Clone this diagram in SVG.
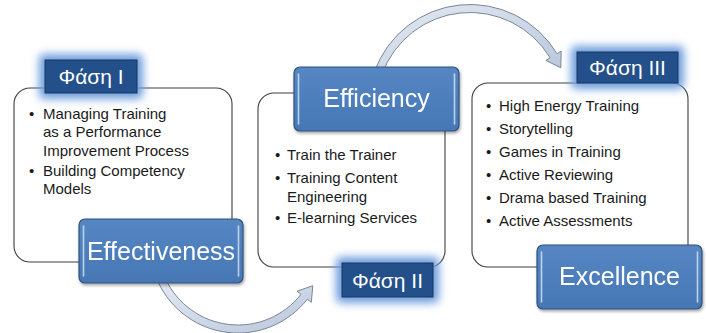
<svg xmlns="http://www.w3.org/2000/svg" width="706" height="333" viewBox="0 0 706 333">
<defs>
<linearGradient id="bluegrad" x1="0" y1="0" x2="0" y2="1">
<stop offset="0" stop-color="#5687c3"/>
<stop offset="1" stop-color="#4677b5"/>
</linearGradient>
<linearGradient id="arrowgrad" x1="0" y1="0" x2="1" y2="1">
<stop offset="0" stop-color="#e4eaf3"/>
<stop offset="1" stop-color="#b9c7dc"/>
</linearGradient>
<filter id="shadow" x="-10%" y="-10%" width="125%" height="135%">
<feGaussianBlur in="SourceAlpha" stdDeviation="1.5"/>
<feOffset dx="1" dy="2" result="b"/>
<feComponentTransfer><feFuncA type="linear" slope="0.35"/></feComponentTransfer>
<feMerge><feMergeNode/><feMergeNode in="SourceGraphic"/></feMerge>
</filter>
<filter id="glow" x="-40%" y="-80%" width="180%" height="260%">
<feGaussianBlur stdDeviation="4.5"/>
</filter>
<style>
.panel{fill:#ffffff;stroke:#3f3f3f;stroke-width:1.1}
.box{fill:url(#bluegrad);stroke:#2f527c;stroke-width:1.2}
.hl{stroke:#cfe0f5;stroke-width:1.6;stroke-linecap:round;opacity:0.85}
.phase{fill:#23508a;stroke:#18375f;stroke-width:1}
.glowrect{fill:#6f9edd}
.big{font-family:"Liberation Sans",Arial,sans-serif;font-size:25px;fill:#ffffff;text-anchor:middle}
.ph{font-family:"Liberation Sans",Arial,sans-serif;font-size:21px;fill:#ffffff;text-anchor:middle}
.item{font-family:"Liberation Sans",Arial,sans-serif;font-size:15px;fill:#1a1a1a}
.arrow{fill:url(#arrowgrad);stroke:#7d8694;stroke-width:1}
</style>
</defs>
<rect width="706" height="333" fill="#ffffff"/>

<g id="connectors">
<path class="arrow" d="M 158.2 282.2 A 88 88 0 0 0 307.3 299.2 L 311.3 302.3 L 312.8 285.7 L 297.1 291.2 L 301.0 294.3 A 80 80 0 0 1 165.5 278.8 Z"/>
<path class="arrow" d="M 374.6 71.3 A 101.5 101.5 0 0 1 557.0 53.7 L 561.2 51.2 L 560.8 67.8 L 545.9 60.4 L 550.1 57.8 A 93.5 93.5 0 0 0 382.1 74.0 Z"/>
</g>

<g id="panel1">
<rect class="panel" x="14" y="88" width="218" height="174" rx="16"/>
<text class="item" x="29" y="119">•</text>
<text class="item" x="43" y="119">Managing Training</text>
<text class="item" x="43" y="137">as a Performance</text>
<text class="item" x="43" y="156">Improvement Process</text>
<text class="item" x="29" y="176">•</text>
<text class="item" x="43" y="176">Building Competency</text>
<text class="item" x="43" y="194">Models</text>
</g>

<g id="panel2">
<rect class="panel" x="258" y="93" width="187" height="174" rx="16"/>
<text class="item" x="275" y="160">•</text>
<text class="item" x="287" y="160">Train the Trainer</text>
<text class="item" x="275" y="183">•</text>
<text class="item" x="287" y="183">Training Content</text>
<text class="item" x="287" y="202">Engineering</text>
<text class="item" x="275" y="223">•</text>
<text class="item" x="287" y="223">E-learning Services</text>
</g>

<g id="panel3">
<rect class="panel" x="472" y="83" width="216" height="184" rx="16"/>
<text class="item" x="486" y="111">•</text>
<text class="item" x="499" y="111">High Energy Training</text>
<text class="item" x="486" y="134">•</text>
<text class="item" x="499" y="134">Storytelling</text>
<text class="item" x="486" y="157">•</text>
<text class="item" x="499" y="157">Games in Training</text>
<text class="item" x="486" y="180">•</text>
<text class="item" x="499" y="180">Active Reviewing</text>
<text class="item" x="486" y="203">•</text>
<text class="item" x="499" y="203">Drama based Training</text>
<text class="item" x="486" y="226">•</text>
<text class="item" x="499" y="226">Active Assessments</text>
</g>

<g id="phase1-label">
<rect class="glowrect" x="39" y="54" width="104" height="45" rx="5" filter="url(#glow)"/>
<rect class="phase" x="45" y="60" width="92" height="33"/>
<text class="ph" x="91" y="84">Φάση I</text>
</g>

<g id="phase2-label">
<rect class="glowrect" x="336" y="257" width="103" height="46" rx="5" filter="url(#glow)"/>
<rect class="phase" x="342" y="263" width="91" height="34"/>
<text class="ph" x="387.5" y="288">Φάση II</text>
</g>

<g id="phase3-label">
<rect class="glowrect" x="571" y="46" width="113" height="43" rx="5" filter="url(#glow)"/>
<rect class="phase" x="577" y="52" width="101" height="31"/>
<text class="ph" x="627.5" y="75">Φάση III</text>
</g>

<g id="effectiveness" filter="url(#shadow)">
<rect class="box" x="79" y="219" width="164" height="64" rx="6"/>
<line class="hl" x1="83.5" y1="226" x2="83.5" y2="276"/>
<line class="hl" x1="238.5" y1="226" x2="238.5" y2="276"/>
<text class="big" x="161" y="260">Effectiveness</text>
</g>

<g id="efficiency" filter="url(#shadow)">
<rect class="box" x="294" y="67" width="165" height="64" rx="6"/>
<line class="hl" x1="298.5" y1="74" x2="298.5" y2="124"/>
<line class="hl" x1="454.5" y1="74" x2="454.5" y2="124"/>
<text class="big" x="376.5" y="107">Efficiency</text>
</g>

<g id="excellence" filter="url(#shadow)">
<rect class="box" x="537" y="245" width="165" height="64" rx="6"/>
<line class="hl" x1="541.5" y1="252" x2="541.5" y2="302"/>
<line class="hl" x1="697.5" y1="252" x2="697.5" y2="302"/>
<text class="big" x="619.5" y="285">Excellence</text>
</g>
</svg>
